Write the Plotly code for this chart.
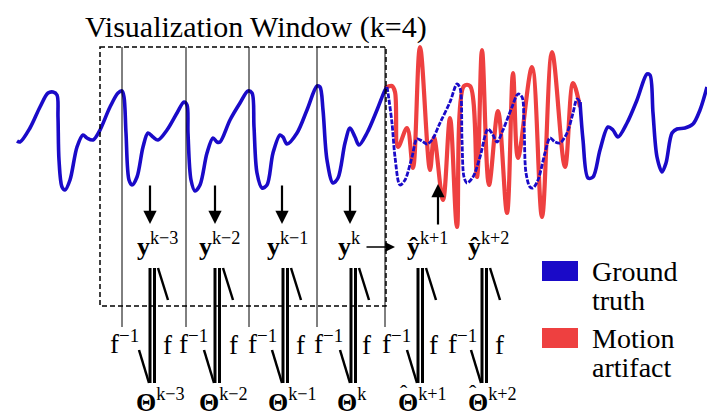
import plotly.graph_objects as go

# ---------------- data (pixel-space units) ----------------
# ground truth, observed part (solid)
gt_obs_t = [17, 20, 30, 40, 48, 53, 57, 58, 59, 62, 65, 70, 77, 83, 87, 93, 99, 110, 118, 122, 124, 126,
            129, 132, 137, 143, 148, 153, 158, 167, 177, 184, 187, 188, 191, 195, 200, 207, 213, 217, 220,
            230, 240, 248, 252, 254, 257, 262, 267, 273, 280, 283, 287, 297, 307, 317, 320, 323, 327, 333,
            338, 345, 350, 355, 359, 367, 377, 385, 387]
gt_obs_v = [141, 142, 128, 107, 93, 92, 95, 117, 160, 187, 190, 180, 147, 135, 138, 140, 132, 107, 93, 91, 97,
            133, 180, 185, 177, 147, 133, 137, 140, 130, 113, 102, 105, 133, 180, 191, 185, 153, 138, 142, 142,
            120, 103, 91, 93, 127, 173, 188, 185, 153, 135, 137, 144, 133, 110, 86, 87, 110, 160, 183, 178, 143,
            128, 137, 145, 133, 110, 90, 87]
# ground truth, hidden part (dashed)
gt_hid_t = [387, 388, 392, 395, 400, 405, 412, 417, 422, 427, 432, 440, 450, 457, 460, 462, 464, 467, 473,
            480, 488, 493, 497, 503, 512, 518, 522, 524, 526, 530, 533, 538, 545, 550, 555, 560, 567, 573,
            577, 580]
gt_hid_v = [87, 93, 123, 157, 185, 180, 157, 139, 141, 144, 140, 123, 102, 84, 88, 140, 177, 183, 177, 157,
            129, 135, 142, 130, 107, 94, 97, 123, 173, 187, 188, 180, 153, 138, 142, 143, 133, 113, 99, 102]
# ground truth, after the artifact (solid)
gt_fut_t = [580, 583, 588, 593, 600, 608, 613, 618, 627, 637, 647, 650, 653, 657, 662, 666, 672, 677, 685,
            693, 700, 707]
gt_fut_v = [102, 140, 178, 177, 150, 127, 130, 137, 123, 100, 74, 75, 113, 157, 172, 163, 133, 129, 128,
            124, 110, 87]
# motion artifact (extrema)
ma_t = [385, 392, 395, 398, 407, 413, 420, 430, 434, 443, 450, 457, 464, 470, 477, 482, 489, 498, 507,
        513, 518, 532, 542, 552, 565, 573, 580]
ma_v = [88, 86, 92, 147, 128, 168, 47, 170, 137, 200, 118, 227, 86, 86, 177, 50, 185, 111, 213,
        73, 158, 67, 217, 52, 167, 83, 107]

# ---------------- text ----------------
title_text = "Visualization Window (k=4)"
y_labels = ["<b>y</b><sup>k−3</sup>", "<b>y</b><sup>k−2</sup>", "<b>y</b><sup>k−1</sup>",
            "<b>y</b><sup>k</sup>", "<b>ŷ</b><sup>k+1</sup>", "<b>ŷ</b><sup>k+2</sup>"]
theta_labels = ["<b>Θ</b><sup>k−3</sup>", "<b>Θ</b><sup>k−2</sup>", "<b>Θ</b><sup>k−1</sup>",
                "<b>Θ</b><sup>k</sup>", "<b>Θ</b><sup>k+1</sup>", "<b>Θ</b><sup>k+2</sup>"]
theta_hat = [False, False, False, False, True, True]
legend_names = [["Ground", "truth"], ["Motion", "artifact"]]

# ---------------- layout positions & styles ----------------
BLUE = "rgb(26,10,200)"
RED = "rgb(238,64,64)"
FONT = "Liberation Serif, DejaVu Serif, serif"

pair_x = [150, 215, 283, 351, 418, 482]
ylab_x = [157, 219, 287, 349, 427, 488]
theta_x = [160, 223, 292, 352, 422, 492]
theta_glyph_x = [141, 204, 273, 344, 404, 473]
finv_x = [124, 193, 262, 328, 396, 462]
f_x = [167, 233, 300, 366, 433, 499]
grid_x = [122, 186, 249, 317, 385]
down_x = [150, 215, 282, 350]

fig = go.Figure()
fig.add_trace(go.Scatter(x=ma_t, y=ma_v, mode="lines", line=dict(color=RED, width=4.2, shape="spline", smoothing=1.0),
                         hoverinfo="skip", showlegend=False))
fig.add_trace(go.Scatter(x=gt_hid_t, y=gt_hid_v, mode="lines",
                         line=dict(color=BLUE, width=2.8, dash="5px,1.5px", shape="spline", smoothing=0.9),
                         hoverinfo="skip", showlegend=False))
fig.add_trace(go.Scatter(x=gt_obs_t, y=gt_obs_v, mode="lines", line=dict(color=BLUE, width=3.6, shape="spline", smoothing=0.9),
                         hoverinfo="skip", showlegend=False))
fig.add_trace(go.Scatter(x=gt_fut_t, y=gt_fut_v, mode="lines", line=dict(color=BLUE, width=3.6, shape="spline", smoothing=0.9),
                         hoverinfo="skip", showlegend=False))

shapes = []
# visualization window
shapes.append(dict(type="rect", x0=100, x1=386, y0=47, y1=306, line=dict(color="black", width=1.5, dash="5px,3px")))
for gx in grid_x:
    shapes.append(dict(type="line", x0=gx, x1=gx, y0=47, y1=327, line=dict(color="black", width=1)))
# f / f^-1 harpoons
for px in pair_x:
    shapes.append(dict(type="line", x0=px, x1=px, y0=268, y1=383, line=dict(color="black", width=3)))
    shapes.append(dict(type="line", x0=px + 4.5, x1=px + 4.5, y0=268, y1=383, line=dict(color="black", width=3)))
    shapes.append(dict(type="line", x0=px + 8, x1=px + 18, y0=268, y1=300, line=dict(color="black", width=2.5)))
    shapes.append(dict(type="line", x0=px - 11, x1=px - 1, y0=350, y1=383, line=dict(color="black", width=2.5)))
# legend swatches
shapes.append(dict(type="rect", x0=542, x1=578, y0=261, y1=281, fillcolor=BLUE, line=dict(width=0)))
shapes.append(dict(type="rect", x0=542, x1=578, y0=328, y1=348, fillcolor=RED, line=dict(width=0)))

ann = []
ann.append(dict(x=256, y=27, text=title_text, showarrow=False, font=dict(family=FONT, size=30, color="black"),
                xanchor="center", yanchor="middle"))
for xx, t in zip(ylab_x, y_labels):
    ann.append(dict(x=xx, y=244, text=t, showarrow=False, font=dict(family=FONT, size=26, color="black"),
                    xanchor="center", yanchor="middle"))
for xx, t in zip(theta_x, theta_labels):
    ann.append(dict(x=xx, y=419, text=t, showarrow=False, font=dict(family=FONT, size=26, color="black"),
                    xanchor="center", yanchor="bottom"))
for gx, h in zip(theta_glyph_x, theta_hat):
    if h:
        ann.append(dict(x=gx, y=392, text="ˆ", showarrow=False, font=dict(family=FONT, size=22, color="black"),
                        xanchor="center", yanchor="middle"))
for xx in finv_x:
    ann.append(dict(x=xx, y=342, text="f<sup>−1</sup>", showarrow=False, font=dict(family=FONT, size=27, color="black"),
                    xanchor="center", yanchor="middle"))
for xx in f_x:
    ann.append(dict(x=xx, y=345, text="f", showarrow=False, font=dict(family=FONT, size=27, color="black"),
                    xanchor="center", yanchor="middle"))
for (l1, l2), yy in zip(legend_names, [271, 338]):
    ann.append(dict(x=590, y=yy, text=l1, showarrow=False, font=dict(family=FONT, size=28, color="black"),
                    xanchor="left", yanchor="middle"))
    ann.append(dict(x=590, y=yy + 29, text=l2, showarrow=False, font=dict(family=FONT, size=28, color="black"),
                    xanchor="left", yanchor="middle"))
# arrows
for dx in down_x:
    ann.append(dict(x=dx, y=224, ax=dx, ay=184, xref="x", yref="y", axref="x", ayref="y", text="",
                    showarrow=True, arrowhead=2, arrowsize=1.2, arrowwidth=2.2, arrowcolor="black"))
ann.append(dict(x=438, y=184, ax=438, ay=226, xref="x", yref="y", axref="x", ayref="y", text="",
                showarrow=True, arrowhead=2, arrowsize=1.2, arrowwidth=2.2, arrowcolor="black"))
ann.append(dict(x=395, y=247, ax=365, ay=247, xref="x", yref="y", axref="x", ayref="y", text="",
                showarrow=True, arrowhead=2, arrowsize=1.2, arrowwidth=1.6, arrowcolor="black"))

fig.update_layout(width=707, height=419, margin=dict(l=0, r=0, t=0, b=0), paper_bgcolor="white",
                  plot_bgcolor="white", shapes=shapes, annotations=ann, showlegend=False,
                  font=dict(family=FONT),
                  xaxis=dict(range=[0, 707], visible=False, fixedrange=True),
                  yaxis=dict(range=[419, 0], visible=False, fixedrange=True))
fig.write_html("out.html", config={"displayModeBar": False})
